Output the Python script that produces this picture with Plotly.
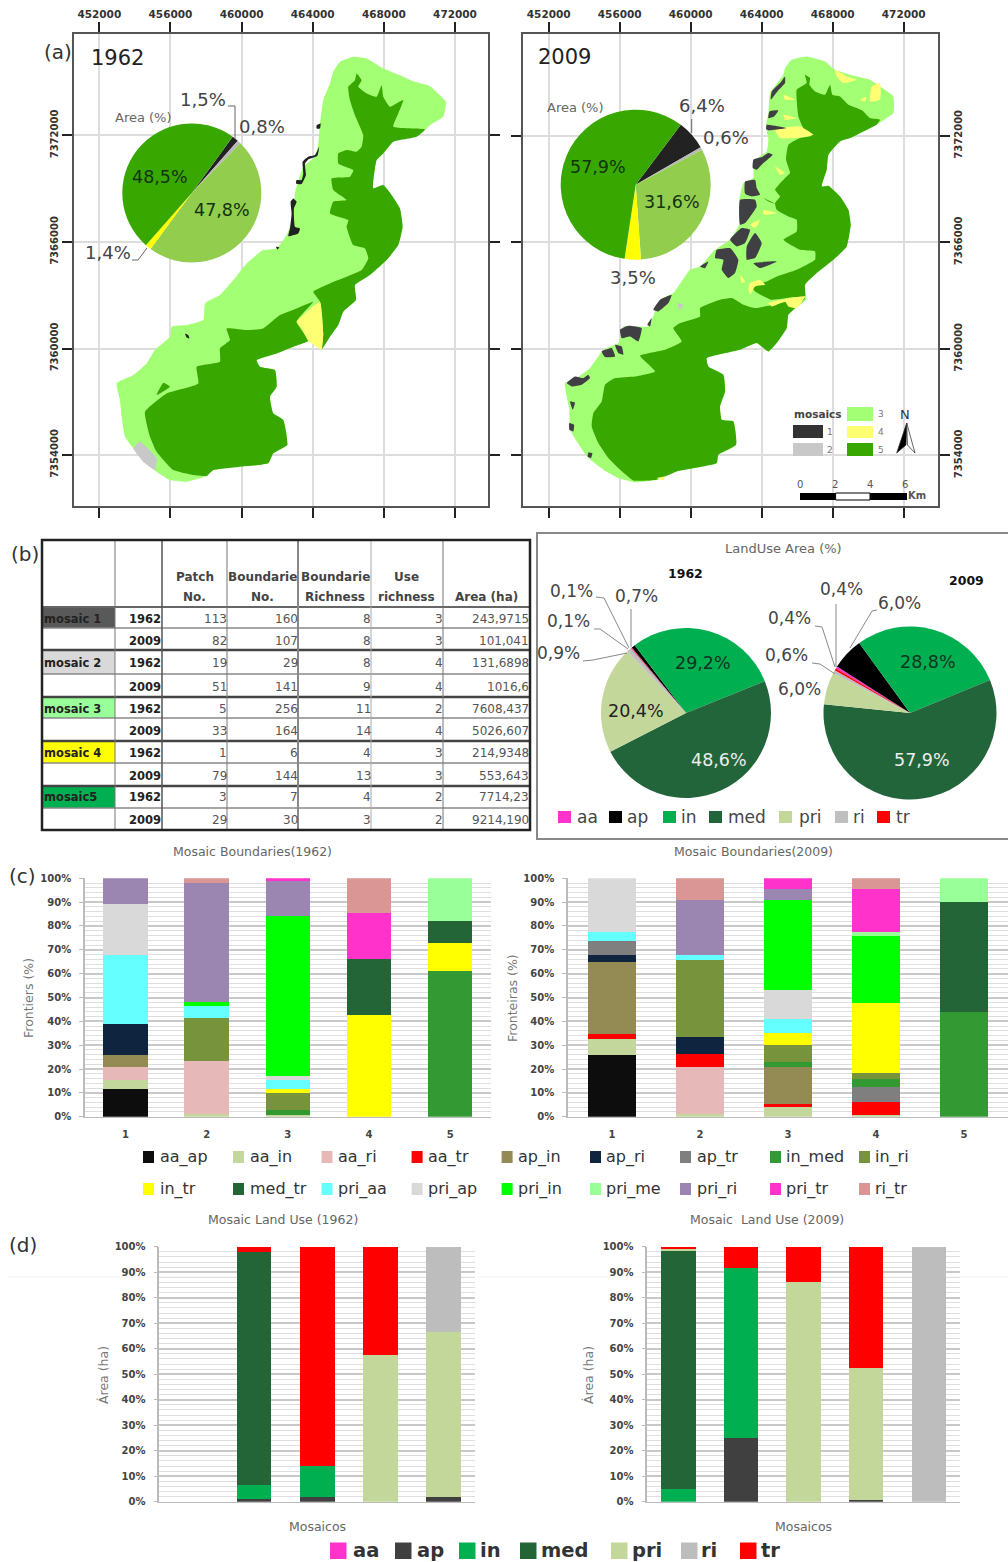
import plotly.graph_objects as go

W, H = 1008, 1562
FONT = "DejaVu Sans"

# ---------- (a) pies ----------
map_pie_labels = ["mosaic 1", "mosaic 2", "mosaic 3", "mosaic 4", "mosaic 5"]
map_pie_1962 = [1.5, 0.8, 47.8, 1.4, 48.5]
map_pie_2009 = [6.4, 0.6, 31.6, 3.5, 57.9]
map_pie_colors = ["#222222", "#b8b8b8", "#92cd4d", "#ffff00", "#38a800"]

# ---------- (a) digitised map outlines (map-sheet grid, converted to UTM below) ----------
land_1962 = [(1000,215),(1020,185),(1060,170),(1100,175),(1150,205),(1200,225),(1245,245),(1290,258),(1320,285),(1338,305),(1330,350),(1290,375),(1270,395),(1230,410),(1180,425),(1150,460),(1130,480),(1120,565),(1150,555),(1175,585),(1200,625),(1208,680),(1195,735),(1160,780),(1110,825),(1065,855),(1068,900),(1030,935),(1015,975),(990,1010),(965,1048),(950,1040),(925,1022),(880,1040),(830,1060),(770,1080),(780,1100),(825,1110),(830,1160),(810,1190),(820,1240),(850,1260),(862,1335),(820,1360),(805,1390),(720,1400),(640,1410),(620,1428),(560,1445),(510,1440),(470,1415),(430,1385),(400,1345),(375,1310),(365,1250),(360,1200),(350,1150),(400,1125),(440,1090),(465,1050),(510,1010),(515,980),(560,975),(610,960),(615,910),(660,885),(700,840),(740,790),(790,750),(830,745),(860,705),(880,650),(885,580),(910,500),(945,470),(955,430),(960,370),(970,300),(990,250)]
forest_n_1962 = [(1070,220),(1085,240),(1075,260),(1100,280),(1130,290),(1145,255),(1150,290),(1170,320),(1210,300),(1195,340),(1180,380),(1275,388),(1250,410),(1180,425),(1150,460),(1130,480),(1120,565),(1150,555),(1175,585),(1200,625),(1208,680),(1195,735),(1160,780),(1110,825),(1065,855),(1068,900),(1030,935),(1015,975),(990,1010),(965,1048),(970,1000),(960,905),(940,875),(990,850),(1040,830),(1085,810),(1105,775),(1095,745),(1060,735),(1040,680),(1045,660),(990,640),(1000,605),(1040,600),(1000,570),(995,535),(1050,530),(1060,510),(1015,490),(1015,460),(1040,450),(1070,455),(1085,440),(1090,405),(1065,345),(1050,300),(1045,260),(1065,240)]
forest_s_1962 = [(940,905),(890,925),(840,945),(790,985),(740,990),(680,985),(690,1020),(660,1045),(660,1085),(590,1100),(595,1150),(500,1180),(435,1235),(450,1310),(470,1355),(520,1410),(580,1425),(620,1428),(640,1410),(720,1400),(805,1390),(820,1360),(862,1335),(850,1260),(820,1240),(810,1190),(830,1160),(825,1110),(780,1100),(770,1080),(830,1060),(880,1040),(925,1022),(890,965)]
forest_spot_1962 = [(490,1148),(510,1160),(470,1185)]
yellow_1962 = [(960,905),(970,1000),(965,1048),(950,1040),(925,1022),(905,985),(890,965),(915,940)]
grey_1962 = [(420,1325),(470,1375),(465,1410),(430,1385),(400,1345)]
dark_1962 = [
    [(958,440),(952,468),(925,478),(915,490),(918,525),(905,552),(888,550),(890,540),(905,540),(910,520),(908,485),(925,470),(945,465)],
    [(880,595),(890,605),(882,625),(885,680),(900,685),(895,700),(865,708),(870,685),(875,640),(872,605)],
    [(950,375),(962,370),(960,385),(950,385)],
    [(828,740),(838,742),(832,748)],
    [(555,1000),(565,1005),(568,1015),(560,1012)],
]

land_2009 = [(825,205),(845,180),(890,170),(945,185),(975,210),(1020,225),(1080,240),(1110,260),(1150,290),(1150,340),(1115,365),(1060,395),(1020,415),(990,425),(955,465),(950,510),(935,560),(955,558),(990,590),(1015,630),(1022,675),(1010,740),(970,780),(920,820),(885,855),(888,900),(850,930),(835,945),(830,985),(800,1030),(775,1055),(740,1030),(690,1050),(590,1075),(595,1100),(640,1125),(645,1175),(630,1220),(635,1260),(670,1265),(678,1335),(625,1365),(620,1390),(500,1415),(440,1440),(375,1448),(325,1435),(280,1410),(235,1375),(210,1340),(180,1290),(178,1230),(165,1150),(200,1135),(240,1105),(280,1050),(325,1030),(340,980),(415,980),(450,900),(490,880),(540,810),(570,800),(615,750),(660,720),(690,670),(688,600),(700,550),(730,535),(730,485),(770,455),(775,420),(768,380),(775,340),(780,280),(820,225)]
forest_n_2009 = [(885,225),(900,235),(898,255),(915,275),(945,285),(960,255),(967,285),(990,290),(1015,315),(1040,325),(1060,335),(1080,355),(1110,360),(1100,375),(1060,395),(1020,415),(990,425),(955,465),(950,510),(935,560),(955,558),(990,590),(1015,630),(1022,675),(1010,740),(970,780),(920,820),(885,855),(885,890),(850,892),(785,900),(735,875),(725,860),(770,845),(800,830),(860,810),(915,780),(915,755),(870,750),(820,720),(860,695),(860,660),(835,650),(800,630),(795,610),(810,590),(795,570),(825,535),(840,520),(828,480),(835,435),(870,415),(905,408),(880,385),(865,350),(860,270),(890,250)]
forest_s_2009 = [(885,895),(850,930),(835,945),(830,985),(800,1030),(775,1055),(740,1030),(690,1050),(590,1075),(595,1100),(640,1125),(645,1175),(630,1220),(635,1260),(670,1265),(678,1335),(625,1365),(620,1390),(500,1415),(440,1440),(370,1442),(330,1410),(295,1375),(265,1330),(245,1280),(250,1240),(275,1205),(285,1155),(315,1135),(375,1130),(435,1115),(390,1068),(465,1050),(515,1025),(490,985),(510,970),(570,950),(570,925),(630,900),(665,895),(700,915),(735,925),(790,915)]
forest_streak_2009 = [(760,595),(795,612),(775,605)]
dark_2009 = [
    [(825,230),(810,250),(785,275),(782,300),(802,275),(825,250)],
    [(778,335),(805,332),(792,350),(775,355)],
    [(770,375),(795,378),(830,385),(775,392),(768,388)],
    [(775,460),(788,465),(760,490),(740,510),(728,505),(730,480),(755,472)],
    [(705,545),(735,540),(740,565),(750,585),(725,590),(705,582)],
    [(690,600),(735,600),(740,620),(705,670),(690,675)],
    [(660,720),(695,685),(720,690),(705,730),(680,740)],
    [(620,750),(660,745),(685,780),(675,820),(655,835),(635,810),(640,780),(615,775)],
    [(710,740),(735,700),(755,730),(735,775),(710,780)],
    [(730,790),(800,785),(750,805)],
    [(570,800),(595,785),(585,805)],
    [(170,1150),(195,1130),(220,1135),(235,1125),(240,1135),(215,1155),(185,1160)],
    [(275,1055),(305,1045),(315,1070),(285,1072)],
    [(315,1035),(335,1040),(340,1065),(325,1060)],
    [(330,990),(355,978),(395,985),(385,1025),(360,1010),(335,1015)],
    [(430,930),(450,900),(485,885),(475,910),(445,935)],
    [(178,1270),(192,1275),(190,1295),(178,1290)],
    [(235,1358),(247,1360),(243,1375),(233,1370)],
    [(412,975),(425,955),(420,980)],
    [(180,1205),(195,1208),(188,1230)],
]
yellow_2009 = [
    [(795,390),(870,380),(910,405),(860,415),(810,415)],
    [(975,210),(1010,230),(1040,240),(1000,250),(980,230)],
    [(1085,260),(1110,250),(1110,300),(1080,305)],
    [(760,630),(800,640),(760,645)],
    [(795,500),(825,520),(810,525)],
    [(720,675),(750,660),(735,685)],
    [(720,850),(750,840),(765,855),(735,860),(720,885),(715,865)],
    [(775,910),(840,895),(885,890),(860,925),(835,920),(825,905),(785,920)],
    [(820,285),(855,300),(825,300)],
    [(820,345),(860,355),(825,360)],
    [(690,825),(705,845),(695,850)],
    [(1050,300),(1070,290),(1065,305)],
    [(440,1435),(465,1430),(460,1442)],
]
grey_2009 = [[(500,910),(520,915),(510,930)]]

map_eastings = [452000, 456000, 460000, 464000, 468000, 472000]
map_northings = [7354000, 7360000, 7366000, 7372000]

# ---------- (b) table ----------
table_header_1 = ["Patch", "Boundarie", "Boundarie", "Use", ""]
table_header_2 = ["No.", "No.", "Richness", "richness", "Area (ha)"]
table_names = ["mosaic 1", "", "mosaic 2", "", "mosaic 3", "", "mosaic 4", "", "mosaic5", ""]
table_years = ["1962", "2009"] * 5
table_patch = ["113", "82", "19", "51", "5", "33", "1", "79", "3", "29"]
table_boundaries = ["160", "107", "29", "141", "256", "164", "6", "144", "7", "30"]
table_b_richness = ["8", "8", "8", "9", "11", "14", "4", "13", "4", "3"]
table_u_richness = ["3", "3", "4", "4", "2", "4", "3", "3", "2", "2"]
table_area = ["243,9715", "101,041", "131,6898", "1016,6", "7608,437", "5026,607", "214,9348", "553,643", "7714,23", "9214,190"]
table_name_colors = ["#595959", "#d9d9d9", "#99ff99", "#ffff00", "#00b050"]

# ---------- (b) land-use pies ----------
use_labels = ["aa", "ap", "in", "med", "pri", "ri", "tr"]
use_pie_1962 = [0.1, 0.7, 29.2, 48.6, 20.4, 0.9, 0.1]
use_pie_2009 = [0.4, 6.0, 28.8, 57.9, 6.0, 0.6, 0.4]
use_pie_colors = ["#ff33cc", "#000000", "#00b050", "#23653a", "#c4d79b", "#bfbfbf", "#ff0000"]

# ---------- (c) boundaries, % of each mosaic ----------
mosaics = [1, 2, 3, 4, 5]
boundary_names = ["aa_ap","aa_in","aa_ri","aa_tr","ap_in","ap_ri","ap_tr","in_med","in_ri",
                  "in_tr","med_tr","pri_aa","pri_ap","pri_in","pri_me","pri_ri","pri_tr","ri_tr"]
boundary_colors = ["#0d0d0d","#c3d69b","#e6b8b7","#ff0000","#948a54","#0f243e","#7f7f7f","#339933","#77933c",
                   "#ffff00","#246537","#66ffff","#d9d9d9","#00ff00","#99ff99","#9a86b0","#ff33cc","#d99694"]
b62_aa_ap = [11.5, 0, 0, 0, 0]
b62_aa_in = [4, 1, 0.7, 0, 0]
b62_aa_ri = [5.3, 22.5, 0, 0, 0]
b62_aa_tr = [0, 0, 0, 0, 0]
b62_ap_in = [5, 0, 0, 0, 0]
b62_ap_ri = [13, 0, 0, 0, 0]
b62_ap_tr = [0, 0, 0, 0, 0]
b62_in_med = [0, 0, 2.3, 0, 61]
b62_in_ri = [0, 18, 7, 0, 0]
b62_in_tr = [0, 0, 1.5, 42.5, 12]
b62_med_tr = [0, 0, 0, 23.5, 9]
b62_pri_aa = [29, 5, 4, 0, 0]
b62_pri_ap = [21.5, 0, 1.5, 0, 0]
b62_pri_in = [0, 1.5, 67.3, 0, 0]
b62_pri_me = [0, 0, 0, 0, 18]
b62_pri_ri = [10.7, 50, 14.7, 0, 0]
b62_pri_tr = [0, 0, 1, 19.6, 0]
b62_ri_tr = [0, 2, 0, 14.4, 0]
b09_aa_ap = [26, 0, 0, 0, 0]
b09_aa_in = [6.5, 1.2, 4, 0.8, 0]
b09_aa_ri = [0, 19.8, 0, 0, 0]
b09_aa_tr = [2, 5.5, 1.3, 5.2, 0]
b09_ap_in = [30.2, 0, 15.7, 0, 0]
b09_ap_ri = [3.3, 7, 0, 0, 0]
b09_ap_tr = [5.5, 0, 0, 6.3, 0]
b09_in_med = [0, 0, 2, 3.7, 44]
b09_in_ri = [0, 32.2, 7, 2.3, 0]
b09_in_tr = [0, 0, 5, 29.4, 0]
b09_med_tr = [0, 0, 0, 0, 46]
b09_pri_aa = [4, 2.3, 6, 0, 0]
b09_pri_ap = [22.5, 0, 12, 0, 0]
b09_pri_in = [0, 0, 38, 28.3, 0]
b09_pri_me = [0, 0, 0, 1.5, 10]
b09_pri_ri = [0, 23, 4.7, 0, 0]
b09_pri_tr = [0, 0, 4.3, 18, 0]
b09_ri_tr = [0, 9, 0, 4.5, 0]
boundaries_1962 = [b62_aa_ap,b62_aa_in,b62_aa_ri,b62_aa_tr,b62_ap_in,b62_ap_ri,b62_ap_tr,b62_in_med,b62_in_ri,
                   b62_in_tr,b62_med_tr,b62_pri_aa,b62_pri_ap,b62_pri_in,b62_pri_me,b62_pri_ri,b62_pri_tr,b62_ri_tr]
boundaries_2009 = [b09_aa_ap,b09_aa_in,b09_aa_ri,b09_aa_tr,b09_ap_in,b09_ap_ri,b09_ap_tr,b09_in_med,b09_in_ri,
                   b09_in_tr,b09_med_tr,b09_pri_aa,b09_pri_ap,b09_pri_in,b09_pri_me,b09_pri_ri,b09_pri_tr,b09_ri_tr]

# ---------- (d) land use, % of each mosaic ----------
land_use_colors = ["#ff33cc", "#404040", "#00b050", "#246537", "#c4d79b", "#bdbdbd", "#ff0000"]
u62_aa = [0, 0, 0, 0, 0]
u62_ap = [0, 1, 1.7, 0, 2]
u62_in = [0, 5.7, 12.3, 0, 0]
u62_med = [0, 91.3, 0, 0, 0]
u62_pri = [0, 0, 0, 57.7, 64.7]
u62_ri = [0, 0, 0, 0, 33.3]
u62_tr = [0, 2, 86, 42.3, 0]
u09_aa = [0, 0, 0, 0, 0]
u09_ap = [0, 25, 0, 0.8, 0]
u09_in = [5, 66.7, 0, 0, 0]
u09_med = [93.3, 0, 0, 0, 0]
u09_pri = [1, 0, 86, 51.7, 0]
u09_ri = [0, 0, 0, 0, 100]
u09_tr = [0.7, 8.3, 14, 47.5, 0]
use_1962 = [u62_aa, u62_ap, u62_in, u62_med, u62_pri, u62_ri, u62_tr]
use_2009 = [u09_aa, u09_ap, u09_in, u09_med, u09_pri, u09_ri, u09_tr]

# ---------- helpers ----------
def X(px): return px / W
def Y(py): return 1 - py / H

fig = go.Figure()
shapes, notes = [], []

def txt(px, py, text, size=12, color="#444444", anchor="center", angle=0, bold=False):
    notes.append(dict(xref="paper", yref="paper", x=X(px), y=Y(py), text=f"<b>{text}</b>" if bold else text,
                      showarrow=False, xanchor=anchor, yanchor="middle", textangle=angle, borderpad=0, borderwidth=0,
                      font=dict(family=FONT, size=size, color=color)))

def rect(x0, y0, x1, y1, fill, line=None, lw=0):
    shapes.append(dict(type="rect", xref="paper", yref="paper", x0=X(x0), x1=X(x1), y0=Y(y0), y1=Y(y1),
                       fillcolor=fill, line=dict(color=line or fill, width=lw)))

def seg(pts, color="#888888", lw=1, layer="above"):
    for (a, b), (c, d) in zip(pts, pts[1:]):
        shapes.append(dict(type="line", xref="paper", yref="paper", x0=X(a), y0=Y(b), x1=X(c), y1=Y(d),
                           layer=layer, line=dict(color=color, width=lw)))

def pie(values, labels, colors, cx, cy, r, rotation):
    fig.add_trace(go.Pie(values=values, labels=labels, sort=False, direction="clockwise", rotation=rotation,
                         textinfo="none", showlegend=False, hoverinfo="skip",
                         marker=dict(colors=colors, line=dict(width=0)),
                         domain=dict(x=[X(cx - r), X(cx + r)], y=[Y(cy + r), Y(cy - r)])))

def to_a(p): return [452000 + (c - 298) * 18.74 for c, _ in p], [7372000 - (r - 406) * 18.77 for _, r in p]
def to_b(p): return [452000 + (c - 116) * 18.78 for c, _ in p], [7372000 - (r - 408) * 18.78 for _, r in p]

def poly(p, conv, color, ax):
    xs, ys = conv(p)
    fig.add_trace(go.Scatter(x=xs + xs[:1], y=ys + ys[:1], mode="lines", fill="toself", fillcolor=color,
                             line=dict(width=0, color=color, shape="spline", smoothing=0.4),
                             hoverinfo="skip", showlegend=False, xaxis="x" + ax, yaxis="y" + ax))

# ---------- maps ----------
LIGHT, FOREST, PALE, GREY, DARK = "#a3ff73", "#38a800", "#ffff73", "#c8c8c8", "#404044"
for p, c in [(land_1962, LIGHT), (forest_n_1962, FOREST), (forest_s_1962, FOREST), (forest_spot_1962, FOREST),
             (yellow_1962, PALE), (grey_1962, GREY)] + [(d, "#222222") for d in dark_1962]:
    poly(p, to_a, c, "")
for p, c in [(land_2009, LIGHT), (forest_n_2009, FOREST), (forest_s_2009, FOREST), (forest_streak_2009, FOREST)] + \
        [(d, PALE) for d in yellow_2009] + [(d, GREY) for d in grey_2009] + [(d, DARK) for d in dark_2009]:
    poly(p, to_b, c, "2")

pie(map_pie_1962, map_pie_labels, map_pie_colors, 191.8, 193, 69.5, 36)
pie(map_pie_2009, map_pie_labels, map_pie_colors, 635.7, 184.7, 75, 37)

def map_axes(l, r, xr, yr, right):
    xa = dict(domain=[X(l), X(r)], range=xr, side="top", tickvals=map_eastings, tickformat="d", ticks="outside",
              ticklen=10, tickwidth=2, tickcolor="#222222", showline=True, linecolor="#555555", linewidth=2,
              mirror="allticks", showgrid=True, gridcolor="#dddddd", gridwidth=2, zeroline=False, automargin=False,
              tickfont=dict(family=FONT, size=10.5, color="#333333", weight="bold"))
    ya = dict(domain=[Y(506), Y(34.2)], range=yr, side="right" if right else "left", tickvals=map_northings,
              tickformat="d", ticks="outside", ticklen=10, tickwidth=2, tickcolor="#222222", showline=True,
              linecolor="#555555", linewidth=2, mirror="allticks", showgrid=True, gridcolor="#dddddd", gridwidth=2,
              zeroline=False, tickangle=-90, automargin=False,
              tickfont=dict(family=FONT, size=10, color="#333333", weight="bold"))
    return xa, ya

xa1, ya1 = map_axes(73.5, 488, [450549, 473855], [7351128, 7377704], False)
xa2, ya2 = map_axes(522.5, 937.5, [450524, 473904], [7351142, 7377722], True)
xa2["anchor"], ya2["anchor"] = "y2", "x2"

# map labels
txt(58, 52, "(a)", 20, "#333333")
txt(117, 58, "1962", 21, "#222222")
txt(143, 117, "Area (%)", 13, "#666666")
txt(203, 99, "1,5%", 18)
txt(262, 126, "0,8%", 18)
txt(160, 177, "48,5%", 17.5, "#113311")
txt(222, 210, "47,8%", 17.5, "#113311")
txt(108, 252, "1,4%", 18)
seg([(228, 106), (235, 106), (235, 139)], "#666666")
seg([(132, 260), (138, 260), (147, 248)], "#666666")
txt(564, 57, "2009", 21, "#222222")
txt(575, 108, "Area (%)", 13, "#666666")
txt(702, 106, "6,4%", 18)
txt(726, 138, "0,6%", 18)
txt(598, 167, "57,9%", 17.5, "#113311")
txt(672, 202, "31,6%", 17.5, "#113311")
txt(633, 277, "3,5%", 18)
seg([(691.7, 119), (691.7, 133)], "#666666")

# map legend
txt(818, 414, "mosaics", 10.5, "#444444", bold=True)
rect(793, 425, 823, 438, "#333333")
rect(793, 443, 823, 456, "#c8c8c8")
rect(847, 407, 873, 421, LIGHT)
rect(847, 426, 873, 438, PALE)
rect(847, 443, 873, 456, FOREST)
for lab, lx, ly in [("1", 830, 432), ("2", 830, 450), ("3", 881, 414), ("4", 881, 432), ("5", 881, 450)]:
    txt(lx, ly, lab, 9, "#777777")
txt(905, 414, "N", 13, "#333333")
for path_pts, fill in [([(906.7, 423), (896.7, 453), (906, 445)], "#000000"),
                       ([(906.7, 423), (915, 453), (907.5, 445)], "#ffffff")]:
    path = "M " + " L ".join(f"{X(a)} {Y(b)}" for a, b in path_pts) + " Z"
    shapes.append(dict(type="path", xref="paper", yref="paper", path=path, fillcolor=fill,
                       line=dict(color="#222222", width=0.7)))
for lab, lx in [("0", 800), ("2", 835), ("4", 870), ("6", 905)]:
    txt(lx, 484, lab, 10, "#555555")
rect(800, 493, 835.6, 500, "#000000")
rect(835.6, 493, 870, 500, "#ffffff", "#000000", 1)
rect(870, 493, 907, 500, "#000000")
txt(917, 496, "Km", 10, "#555555", bold=True)

# ---------- table ----------
txt(25, 554, "(b)", 20, "#333333")
col_edges = [42, 115, 162, 227, 298, 371, 443, 530]
row_edges = [608, 628, 650, 674, 697, 718, 741, 763, 786, 808, 830]
row_mid = [619.3, 641, 662.7, 686.7, 709, 731.3, 752.7, 776, 797.3, 820]
for i, color in enumerate(table_name_colors):
    rect(col_edges[0], row_edges[2 * i], col_edges[1], row_edges[2 * i + 1], color)
for k, e in enumerate(row_edges[1:-1]):
    seg([(42, e), (530, e)], "#444444" if k % 2 else "#888888", 2.4 if k % 2 else 1.4)
seg([(42, 607), (530, 607)], "#666666", 2)
for x_e, c, lw in zip(col_edges[1:-1], ["#777777", "#555555", "#777777", "#888888", "#aaaaaa", "#777777"],
                      [1, 1.5, 1, 2, 1, 1]):
    seg([(x_e, 540), (x_e, 830)], c, lw)
rect(42, 540, 530, 830, "rgba(0,0,0,0)", "#222222", 2.5)
hdr_x = [194.5, 262.8, 335, 406, 486]
for x_c, a, b in zip(hdr_x, table_header_1, table_header_2):
    if a:
        txt(x_c, 577, a, 12, "#444444", bold=True)
    txt(x_c, 597, b, 12, "#444444", bold=True)
for i in range(10):
    y = row_mid[i]
    if table_names[i]:
        txt(44, y, table_names[i], 11.5, "#222222", "left", bold=True)
    txt(161, y, table_years[i], 11.5, "#222222", "right", bold=True)
    for col, edge in [(table_patch, 227), (table_boundaries, 298), (table_b_richness, 371),
                      (table_u_richness, 443), (table_area, 529)]:
        txt(edge, y, col[i], 12, "#555555", "right")

# ---------- land-use pies ----------
rect(537, 533, 1012, 839, "rgba(0,0,0,0)", "#888888", 2)
txt(783, 548, "LandUse Area (%)", 13, "#666666")
pie(use_pie_1962, use_labels, use_pie_colors, 686, 713, 85, 320)
pie(use_pie_2009, use_labels, use_pie_colors, 910, 713, 86.5, 301)
txt(685.7, 573, "1962", 12.5, "#111111", bold=True)
txt(966.7, 580.7, "2009", 12.5, "#111111", bold=True)
for lab, lx, ly in [("0,1%", 571.7, 591), ("0,7%", 636.7, 595.7), ("0,1%", 568.3, 621), ("0,9%", 558.3, 653),
                    ("0,4%", 841, 589.3), ("6,0%", 899.3, 603.3), ("0,4%", 789.3, 618), ("0,6%", 786.7, 655.3),
                    ("6,0%", 799.3, 689.3)]:
    txt(lx, ly, lab, 17, "#444444")
txt(703.3, 662.7, "29,2%", 17.5, "#113322")
txt(635.7, 710.7, "20,4%", 17.5, "#222222")
txt(719, 760, "48,6%", 17.5, "#eeeeee")
txt(928.3, 661.7, "28,8%", 17.5, "#113322")
txt(921.7, 760, "57,9%", 17.5, "#eeeeee")
for pts in [[(596, 597), (604, 598), (629, 648)], [(594, 629), (600, 629), (628, 649)],
            [(583, 661), (593, 660), (627, 653)], [(631, 609), (631, 647)],
            [(836, 604), (836, 667)], [(877, 610), (872, 611), (850, 648)],
            [(815, 626), (822, 627), (835, 667)], [(812, 663), (820, 664), (835, 674)]]:
    seg(pts, "#888888")
for sq, lab, tx, col in zip([558, 609, 663, 709, 779, 835, 877], use_labels, [577, 627, 681, 728, 799, 853, 896],
                            use_pie_colors):
    rect(sq, 811, sq + 13, 823, col)
    txt(tx, 816.7, lab, 17, "#444444", "left")

# ---------- bar panels ----------
def bar_axes(l, r, t, b, n):
    xa = dict(domain=[X(l), X(r)], anchor="y" + n, type="category", categoryorder="array", categoryarray=mosaics,
              tickvals=mosaics, ticks="", showline=True, linecolor="#bbbbbb", linewidth=1, showgrid=False,
              automargin=False, range=[-0.5, 4.5], ticklabelstandoff=8,
              tickfont=dict(family=FONT, size=10, color="#444444", weight="bold"))
    ya = dict(domain=[Y(b), Y(t)], anchor="x" + n, range=[0, 100], dtick=10, tick0=0, ticksuffix="%",
              ticks="outside", ticklen=4, tickcolor="#bbbbbb", showline=True, linecolor="#bbbbbb", linewidth=1.5,
              showgrid=True, gridcolor="#c8c8c8", gridwidth=2, zeroline=False, automargin=False, ticklabelstandoff=6,
              minor=dict(dtick=2, showgrid=True, gridcolor="#dedede", gridwidth=1, ticks=""),
              tickfont=dict(family=FONT, size=10, color="#444444", weight="bold"))
    return xa, ya

def stacks(names, series, colors, n):
    for nm, vals, col in zip(names, series, colors):
        fig.add_trace(go.Bar(x=mosaics, y=vals, name=nm, marker=dict(color=col, line=dict(width=0)),
                             xaxis="x" + n, yaxis="y" + n, showlegend=False, hoverinfo="skip"))

stacks(boundary_names, boundaries_1962, boundary_colors, "3")
stacks(boundary_names, boundaries_2009, boundary_colors, "4")
stacks(use_labels, use_1962, land_use_colors, "5")
stacks(use_labels, use_2009, land_use_colors, "6")

xa3, ya3 = bar_axes(85, 490.7, 878.3, 1116.7, "3")
xa4, ya4 = bar_axes(568, 1008, 878.3, 1116.7, "4")
xa5, ya5 = bar_axes(159.3, 475, 1246.7, 1501.7, "5")
xa6, ya6 = bar_axes(647.3, 960, 1246.7, 1501.7, "6")
for a in (xa5, xa6):
    a["showticklabels"] = False

txt(22, 876, "(c)", 20, "#333333")
txt(252, 852, "Mosaic Boundaries(1962)", 12.5, "#666666")
txt(753, 852, "Mosaic Boundaries(2009)", 12.5, "#666666")
txt(28, 998, "Frontiers (%)", 12.5, "#777777", angle=-90)
txt(512, 998, "Fronteiras (%)", 12.5, "#777777", angle=-90)

leg_sq = [143, 233, 321.5, 411.6, 501.6, 590, 680, 770, 859]
leg_tx = [160, 249.5, 338, 428, 518, 606, 697, 786, 875]
for i, (nm, col) in enumerate(zip(boundary_names, boundary_colors)):
    row = i // 9
    j = i % 9
    yc = 1157 + row * 32
    rect(leg_sq[j], yc - 6, leg_sq[j] + 11, yc + 6, col)
    txt(leg_tx[j], yc, nm, 16, "#333333", "left")

txt(23, 1245, "(d)", 20, "#333333")
txt(283, 1219, "Mosaic Land Use (1962)", 12.5, "#666666")
txt(767, 1219, "Mosaic  Land Use (2009)", 12.5, "#666666")
txt(103, 1375, "Área (ha)", 12.5, "#777777", angle=-90)
txt(588, 1375, "Área (ha)", 12.5, "#777777", angle=-90)
txt(317, 1526, "Mosaicos", 12.5, "#666666")
txt(803, 1526, "Mosaicos", 12.5, "#666666")
for sq, lab, tx, col in zip([330, 395, 459, 520, 611, 681, 740], use_labels, [353, 417, 480, 541, 632, 701, 761],
                            land_use_colors):
    rect(sq, 1542.5, sq + 16.5, 1559, col)
    txt(tx, 1550, lab, 19.5, "#333333", "left", bold=True)
seg([(7, 1277), (1008, 1277)], "#f2f2f2", 1, layer="below")

fig.update_layout(
    width=W, height=H, autosize=False, margin=dict(l=0, r=0, t=0, b=0, pad=0),
    paper_bgcolor="white", plot_bgcolor="rgba(0,0,0,0)", barmode="stack", bargap=0.45, showlegend=False,
    font=dict(family=FONT), shapes=shapes, annotations=notes,
    xaxis=xa1, yaxis=ya1, xaxis2=xa2, yaxis2=ya2, xaxis3=xa3, yaxis3=ya3,
    xaxis4=xa4, yaxis4=ya4, xaxis5=xa5, yaxis5=ya5, xaxis6=xa6, yaxis6=ya6,
)
fig.write_html("out.html", config=dict(displayModeBar=False),
               post_script="document.body.style.margin='0';document.documentElement.style.overflow='hidden';")
